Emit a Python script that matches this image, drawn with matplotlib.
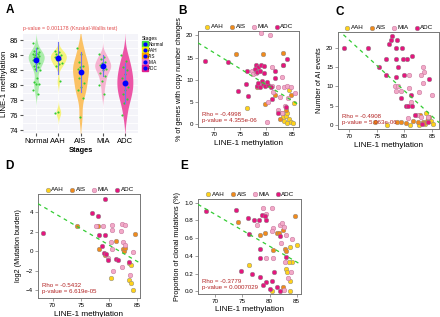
import numpy as np
import matplotlib
matplotlib.use("Agg")
import matplotlib.pyplot as plt
from matplotlib.lines import Line2D

# ---- panel A: LINE-1 methylation by stage ----
stages = ["Normal", "AAH", "AIS", "MIA", "ADC"]
normal_vals = [85.6, 84.9, 84.6, 84.4, 84.3, 84.2, 84.1, 84.0, 83.9, 83.8, 83.7, 83.6, 83.5, 83.4,
               83.3, 83.2, 83.0, 82.8, 82.6, 82.4, 82.2, 82.0, 81.0, 80.4, 80.2, 80.1, 79.4, 78.8]
aah_vals = [84.6, 84.4, 84.1, 84.0, 83.9, 83.7, 83.5, 83.3, 83.0, 82.8, 82.5, 80.5, 76.4, 76.3]
ais_vals = [85.0, 84.2, 83.1, 82.6, 82.4, 82.1, 81.8, 81.0, 80.3, 79.7, 79.4, 78.3, 75.8]
mia_vals = [84.1, 83.8, 83.5, 83.1, 82.9, 82.7, 82.6, 82.4, 82.2, 82.0, 81.6, 81.2, 80.6, 80.0, 78.8]
adc_vals = [84.0, 83.2, 82.4, 82.0, 81.5, 80.9, 80.6, 80.2, 79.7, 79.3, 78.8, 78.2, 77.6, 76.0]
stage_mean = [83.4, 83.6, 81.8, 82.6, 80.3]
stage_sd = [1.55, 2.1, 2.65, 1.4, 2.65]

# ---- panel B: % genes with copy number changes ----
b_aah_x = [76.3, 83.1, 83.4, 83.7, 84.0, 84.3, 84.6, 85.0, 83.9, 85.2, 84.3]
b_aah_y = [3.5, 1.5, 0.5, 1.8, 0.2, 1.0, 0.3, 0.1, 2.4, 4.7, 7.6]
b_ais_x = [74.2, 79.4, 83.1, 78.2, 81.6, 79.8, 82.9, 83.1, 83.8, 82.5, 84.7]
b_ais_y = [15.7, 15.7, 16.1, 8.2, 6.4, 4.5, 2.3, 13.3, 3.0, 1.0, 6.6]
b_mia_x = [79.0, 80.7, 77.2, 77.5, 81.0, 82.9, 81.0, 82.3, 83.3, 84.0, 84.6, 81.3, 82.6, 83.6,
           84.2, 80.4, 80.1, 82.2, 83.0, 85.4, 78.0]
b_mia_y = [20.5, 20.0, 12.0, 11.3, 12.8, 10.5, 8.5, 8.3, 8.4, 8.6, 8.3, 7.2, 6.0, 4.0,
           5.8, 5.0, 0.3, 3.0, 2.5, 6.9, 11.5]
b_adc_x = [68.3, 72.7, 76.3, 78.0, 78.4, 77.9, 79.0, 79.6, 78.2, 78.8, 79.6, 76.1, 74.7, 76.6, 78.2,
           78.8, 79.3, 79.8, 80.3, 80.8, 79.1, 78.5, 80.2, 81.6, 81.6, 83.2, 84.0, 82.3, 83.8, 81.0]
b_adc_y = [14.3, 14.0, 12.0, 13.4, 12.9, 12.3, 13.2, 13.0, 11.6, 11.9, 11.5, 8.9, 7.4, 6.2, 8.6,
           8.4, 8.9, 8.5, 8.7, 8.3, 9.6, 9.1, 9.5, 12.0, 10.4, 13.2, 14.7, 2.3, 3.7, 5.5]

# ---- panel C: number of AI events ----
c_aah_x = [76.9, 81.0, 83.9, 84.2, 84.8, 85.2, 83.7, 82.6]
c_aah_y = [0.0, 0.0, 3.2, 1.8, 1.0, 0.3, 0.2, 0.0]
c_ais_x = [74.7, 78.6, 79.4, 80.2, 82.4, 83.3, 83.6, 84.1, 82.8, 84.5, 81.5]
c_ais_y = [0.7, 0.7, 0.7, 0.5, 0.7, 0.7, 0.5, 1.0, 2.6, 2.0, 1.0]
c_mia_x = [83.3, 83.6, 83.0, 83.3, 85.0, 80.9, 78.2, 78.8, 78.4, 79.4, 80.9, 81.2, 82.3, 83.0,
           80.6, 84.2, 82.6]
c_mia_y = [15.1, 13.8, 12.9, 10.8, 7.8, 12.9, 10.1, 10.1, 8.8, 8.8, 9.7, 5.9, 2.6, 2.0,
           1.8, 2.0, 8.5]
c_adc_x = [69.0, 73.3, 77.7, 77.5, 78.6, 77.2, 78.4, 79.5, 76.7, 78.5, 79.7, 80.5, 81.3, 75.3,
           78.8, 76.7, 78.5, 80.0, 79.4, 80.2, 80.6, 81.1, 84.5, 82.0, 83.2, 84.3, 81.3]
c_adc_y = [20.0, 20.0, 23.0, 22.0, 22.0, 21.0, 19.8, 19.8, 17.0, 17.0, 17.0, 17.0, 17.9, 14.9,
           14.9, 12.9, 12.5, 12.8, 6.9, 5.0, 5.0, 7.8, 11.9, 2.6, 0.3, 0.8, 5.0]

# ---- panel D: log2 mutation burden ----
d_aah_x = [80.4, 83.5, 83.9, 84.2, 83.6, 83.9]
d_aah_y = [-2.8, -3.0, -3.3, -4.0, -1.25, -1.4]
d_ais_x = [74.3, 78.2, 78.1, 79.3, 81.2, 82.5, 82.7, 84.7, 82.9]
d_ais_y = [2.6, 0.2, 2.6, -0.4, 1.0, 0.2, 0.0, 1.8, 0.3]
d_mia_x = [77.7, 78.9, 80.5, 80.5, 82.4, 82.9, 82.2, 82.5, 82.8, 80.4, 80.5, 79.8, 80.7, 82.4, 83.8, 84.2]
d_mia_y = [2.6, 2.6, 2.7, 2.2, 2.8, 2.7, 2.1, 0.9, 0.6, 0.9, 0.2, -0.7, -2.0, -1.6, -2.4, -0.1]
d_adc_x = [68.4, 77.0, 78.1, 79.3, 78.2, 79.3, 78.8, 79.2, 79.5, 79.8, 81.2, 81.7, 83.6]
d_adc_y = [1.9, 3.9, 3.6, 5.3, 1.7, 1.7, 0.5, -0.2, -0.3, -0.9, -0.8, -0.9, -1.1]

# ---- panel E: proportion of clonal mutations ----
e_aah_x = [76.2, 83.8, 85.0, 84.1, 83.6, 83.0, 83.8, 80.4, 83.8, 83.2]
e_aah_y = [0.30, 0.50, 0.52, 0.33, 0.33, 0.25, 0.11, 0.0, 0.0, 0.22]
e_ais_x = [74.2, 79.1, 78.2, 81.3, 81.7, 80.7, 82.5, 82.8, 83.1, 84.7, 82.5]
e_ais_y = [0.78, 0.66, 0.64, 0.66, 0.66, 0.47, 0.69, 0.48, 0.45, 0.85, 0.05]
e_mia_x = [78.8, 80.5, 79.3, 77.6, 80.7, 80.5, 81.9, 82.3, 82.7, 83.1, 84.1, 82.1, 79.4, 80.7,
           82.8, 83.9, 82.7, 83.4]
e_mia_y = [0.94, 0.94, 0.87, 0.75, 0.71, 0.68, 0.75, 0.77, 0.73, 0.64, 0.59, 0.54, 0.37, 0.37,
           0.33, 0.22, 0.01, 0.15]
e_adc_x = [68.3, 73.9, 76.0, 77.2, 78.0, 78.6, 79.1, 79.4, 76.2, 78.2, 76.7, 74.8, 78.2, 78.2,
           79.4, 78.8, 80.5, 80.1, 81.3, 81.9, 80.8, 83.1, 82.0]
e_adc_y = [0.91, 0.92, 0.83, 0.81, 0.81, 0.86, 0.85, 0.81, 0.65, 0.48, 0.20, 0.225, 0.37, 0.16,
           0.10, 0.065, 0.11, 0.03, 0.05, 0.0, 0.22, 0.39, 0.62]

# fitted lines as drawn in the figure (slope, intercept)
fit_b = (-0.732, 67.36)
fit_c = (-1.303, 113.08)
fit_d = (-0.336, 27.51)
fit_e = (-0.0358, 3.373)

rho_text = ["Rho = -0.4998\np-value = 4.355e-06", "Rho = -0.4908\np-value = 5.063e-06",
            "Rho = -0.5432\np-value = 6.619e-05", "Rho = -0.3779\np-value = 0.0007029"]

violin_cols = ["#ABECAB", "#F6F27E", "#FBC265", "#F6B3D1", "#EC56A6"]
key_cols = ["#3EE03E", "#F2F000", "#FFA200", "#F07FC0", "#E0208F"]
pt_cols = {"AAH": "#FFD21A", "AIS": "#F08A1C", "MIA": "#F3A9C8", "ADC": "#E5157D"}
red = "#B22222"

plt.rcParams['font.family'] = ['Liberation Sans', 'DejaVu Sans']
fig = plt.figure(figsize=(4.4, 3.17), dpi=100)


def nrd0(v):
    v = np.asarray(v)
    iqr = np.subtract(*np.percentile(v, [75, 25]))
    lo = min(v.std(ddof=1), iqr / 1.34)
    return 0.9 * lo * len(v) ** -0.2


# ---------------- A ----------------
axA = fig.add_axes([0.052, 0.58, 0.262, 0.312])
axA.set_facecolor("#F4F4F9")
groups = [normal_vals, aah_vals, ais_vals, mia_vals, adc_vals]
for i, vals in enumerate(groups):
    v = np.asarray(vals)
    bw = nrd0(v)
    yy = np.linspace(v.min() - 3 * bw, v.max() + 3 * bw, 300)
    dens = np.exp(-0.5 * ((yy[:, None] - v[None, :]) / bw) ** 2).sum(axis=1)
    half = dens / dens.max() * 0.36
    axA.fill_betweenx(yy, i + 1 - half, i + 1 + half, color=violin_cols[i], lw=0, zorder=2)
    jit = ((np.arange(len(v)) * 0.618) % 1 - 0.5) * 0.32
    axA.scatter(i + 1 + jit, v, s=2.4, color="#33CC33", lw=0, zorder=3)
    axA.plot([i + 1, i + 1], [stage_mean[i] - stage_sd[i], stage_mean[i] + stage_sd[i]],
             color="#7474F0", lw=0.8, zorder=4)
    axA.plot(i + 1, stage_mean[i], "o", color="#0000FF", ms=3.2, zorder=5)
axA.set_xlim(0.4, 5.6)
axA.set_ylim(73.6, 86.8)
axA.set_yticks(np.arange(74, 87, 2))
axA.set_yticks(np.arange(75, 87, 2), minor=True)
axA.set_xticks(range(1, 6))
axA.set_xticklabels(stages)
axA.grid(True, which="both", color="white", lw=0.6)
axA.set_axisbelow(True)
for s in axA.spines.values():
    s.set_visible(False)
axA.tick_params(labelsize=5.5, length=2, color="#555555", pad=1.2, which="major")
axA.tick_params(which="minor", length=0)
axA.set_ylabel("LINE-1 methylation", fontsize=5.6, labelpad=1.5)
axA.set_xlabel("Stages", fontsize=5.3, fontweight="bold", labelpad=1.5)
axA.set_title("p-value = 0.001178 (Kruskal-Wallis test)", fontsize=3.8, color="#E04848",
              loc="left", pad=3)
keys = [(Line2D([0], [0], marker="s", color="none", markerfacecolor=key_cols[i],
                markeredgecolor=key_cols[i], ms=4.8),
         Line2D([0], [0], marker="o", color="none", markerfacecolor="#0000FF",
                markeredgecolor="#0000FF", ms=2.0)) for i in range(5)]
fig.legend(keys, stages, loc="upper left", bbox_to_anchor=(0.318, 0.895),
           frameon=False, fontsize=3.3, title="Stages", title_fontsize=3.6,
           handlelength=1.0, handleheight=1.0, handletextpad=0.3, labelspacing=0.25,
           alignment="left", borderaxespad=0.1)


def scatter_panel(rect, data, fit, xlim, ylim, yticks, ylabel, rtext, ylab_fmt=None):
    ax = fig.add_axes(rect)
    for name, xs, ys in data:
        ec = "#C4739A" if name == "MIA" else "#8C8C8C"
        ax.scatter(xs, ys, s=11, color=pt_cols[name], edgecolor=ec, lw=0.35, zorder=3,
                   label=name)
    xx = np.array(xlim)
    ax.plot(xx, fit[1] + fit[0] * xx, color="#33CC33", lw=0.9, ls=(0, (3, 3)), zorder=4)
    ax.set_xlim(xlim)
    ax.set_ylim(ylim)
    ax.set_xticks([70, 75, 80, 85])
    ax.set_yticks(yticks)
    if ylab_fmt:
        ax.set_yticklabels([ylab_fmt % t for t in yticks])
    for s in ax.spines.values():
        s.set_color("#777777")
        s.set_linewidth(0.7)
    ax.tick_params(labelsize=4.5, length=2, width=0.5, color="#777777", pad=1.5)
    ax.set_xlabel("LINE-1 methylation", fontsize=5.9, labelpad=2)
    ax.set_ylabel(ylabel, fontsize=5.2, labelpad=2.5)
    ax.text(0.04, 0.04, rtext, transform=ax.transAxes, fontsize=4.4, color=red,
            va="bottom", ha="left", linespacing=1.3)
    ax.legend(loc="lower center", bbox_to_anchor=(0.5, 0.985), ncol=4, frameon=False,
              fontsize=4.5, handletextpad=0.0, columnspacing=0.7, borderaxespad=0.1,
              handlelength=1.2, markerscale=1.0)
    return ax


scatter_panel([0.45, 0.599, 0.2295, 0.303],
              [("AAH", b_aah_x, b_aah_y), ("AIS", b_ais_x, b_ais_y),
               ("MIA", b_mia_x, b_mia_y), ("ADC", b_adc_x, b_adc_y)], fit_b,
              (67.0, 86.2), (-0.8, 21.0), [0, 5, 10, 15, 20],
              "% of genes with copy number changes", rho_text[0])
scatter_panel([0.768, 0.593, 0.23, 0.306],
              [("AAH", c_aah_x, c_aah_y), ("AIS", c_ais_x, c_ais_y),
               ("MIA", c_mia_x, c_mia_y), ("ADC", c_adc_x, c_adc_y)], fit_c,
              (67.9, 86.3), (-1.0, 24.0), [0, 5, 10, 15, 20],
              "Number of AI events", rho_text[1])
scatter_panel([0.086, 0.06, 0.232, 0.328],
              [("AAH", d_aah_x, d_aah_y), ("AIS", d_ais_x, d_ais_y),
               ("MIA", d_mia_x, d_mia_y), ("ADC", d_adc_x, d_adc_y)], fit_d,
              (67.4, 85.5), (-4.8, 5.85), [-4, -2, 0, 2, 4],
              "log2 (Mutation burden)", rho_text[2])
scatter_panel([0.45, 0.073, 0.234, 0.30],
              [("AAH", e_aah_x, e_aah_y), ("AIS", e_ais_x, e_ais_y),
               ("MIA", e_mia_x, e_mia_y), ("ADC", e_adc_x, e_adc_y)], fit_e,
              (66.8, 85.8), (-0.03, 1.045), [0, 0.2, 0.4, 0.6, 0.8, 1.0],
              "Proportion of clonal mutations (%)", rho_text[3], ylab_fmt="%.1f")

for lab, x, y in [("A", 0.012, 0.967), ("B", 0.405, 0.965), ("C", 0.762, 0.962),
                  ("D", 0.012, 0.475), ("E", 0.41, 0.475)]:
    fig.text(x, y, lab, fontsize=8.5, fontweight="bold", ha="left", va="center")

fig.savefig("out.png", dpi=100)
